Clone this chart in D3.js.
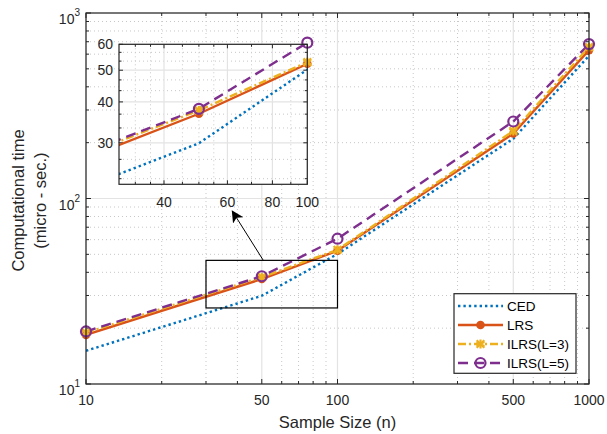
<!DOCTYPE html>
<html><head><meta charset="utf-8">
<script src="https://cdn.jsdelivr.net/npm/d3@7"></script>
<style>
html,body{margin:0;padding:0;background:#fff;}
svg{display:block;font-family:"Liberation Sans",Arial,Helvetica,sans-serif;}
</style></head>
<body>
<script>
// ---------- data ----------
const sampleSizes = [10, 50, 100, 500, 1000];
const cedValues   = [15.1, 29.9, 50.2, 210, 588];
const lrsValues   = [18.4, 36.8, 52.3, 224, 631];
const ilrs3Values = [18.9, 37.7, 52.9, 231, 655];
const ilrs5Values = [19.2, 38.1, 60.7, 260, 680];
const seriesNames = ["CED", "LRS", "ILRS(L=3)", "ILRS(L=5)"];

const xTickValues = [10, 50, 100, 500, 1000];
const xTickLabels = ["10", "50", "100", "500", "1000"];
const yTickValues = [10, 100, 1000];
const yTickExponents = ["1", "2", "3"];

const insetXTicks = [40, 60, 80, 100];
const insetYTicks = [30, 40, 50, 60];
const insetXMinor = [33.3, 36.7, 45, 50, 55, 70, 90];
const insetYMinor = [23.3, 26.7, 33.3, 36.7, 43.3, 46.7, 53.3, 56.7];
const insetXDomain = [30, 100];
const insetYDomain = [22.4, 60];

const zoomBoxX = [30, 100];
const zoomBoxY = [25.7, 46.4];
const arrowFrom = [50.7, 46.4];
const arrowTo = [38.2, 85.4];

const xLabel = "Sample Size (n)";
const yLabelLines = ["Computational time", "(micro - sec.)"];

// ---------- styles ----------
const W = 607, H = 434;
const colors = ["#0072BD", "#D95319", "#EDB120", "#7E2F8E"];
const dashes = ["2.4,3", null, "8,3,2,3", "10,6"];
const markers = [null, "dot", "star", "ring"];
const allSeries = [cedValues, lrsValues, ilrs3Values, ilrs5Values];
const axisColor = "#262626";

const svg = d3.select("body").append("svg").attr("width", W).attr("height", H);
svg.append("rect").attr("width", W).attr("height", H).attr("fill", "#fff");

const L = 86, R = 589, T = 13, B = 384;
const x = d3.scaleLog().domain([10, 1000]).range([L, R]);
const y = d3.scaleLog().domain([10, 1000]).range([B, T]);

function minorLog(lo, hi) {
  const out = [];
  for (let d = lo; d < hi; d *= 10) for (let k = 2; k <= 9; k++) out.push(d * k);
  return out;
}
const xMinor = minorLog(10, 1000).filter(v => xTickValues.indexOf(v) < 0);
const yMinor = minorLog(10, 1000);

// grid
const grid = svg.append("g");
grid.selectAll(".mx").data(xMinor).enter().append("line")
  .attr("x1", d => x(d)).attr("x2", d => x(d)).attr("y1", T).attr("y2", B)
  .attr("stroke", "#c8c8c8").attr("stroke-width", 1).attr("stroke-dasharray", "1,3");
grid.selectAll(".my").data(yMinor).enter().append("line")
  .attr("y1", d => y(d)).attr("y2", d => y(d)).attr("x1", L).attr("x2", R)
  .attr("stroke", "#c8c8c8").attr("stroke-width", 1).attr("stroke-dasharray", "1,3");
grid.selectAll(".gx").data(xTickValues).enter().append("line")
  .attr("x1", d => x(d)).attr("x2", d => x(d)).attr("y1", T).attr("y2", B)
  .attr("stroke", "#e3e3e3").attr("stroke-width", 1.2);
grid.selectAll(".gy").data(yTickValues).enter().append("line")
  .attr("y1", d => y(d)).attr("y2", d => y(d)).attr("x1", L).attr("x2", R)
  .attr("stroke", "#e3e3e3").attr("stroke-width", 1.2);

// ticks (inward, all four sides)
const tk = svg.append("g").attr("stroke", axisColor).attr("stroke-width", 1);
function xt(vals, len) {
  vals.forEach(v => {
    tk.append("line").attr("x1", x(v)).attr("x2", x(v)).attr("y1", B).attr("y2", B - len);
    tk.append("line").attr("x1", x(v)).attr("x2", x(v)).attr("y1", T).attr("y2", T + len);
  });
}
function yt(vals, len) {
  vals.forEach(v => {
    tk.append("line").attr("y1", y(v)).attr("y2", y(v)).attr("x1", L).attr("x2", L + len);
    tk.append("line").attr("y1", y(v)).attr("y2", y(v)).attr("x1", R).attr("x2", R - len);
  });
}
xt(xTickValues, 5); xt(xMinor, 3); yt(yTickValues, 5); yt(yMinor, 3);

// tick labels
svg.append("g").selectAll("text").data(xTickValues).enter().append("text")
  .attr("x", d => x(d)).attr("y", B + 21).attr("text-anchor", "middle")
  .attr("font-size", 14).attr("fill", axisColor).text((d, i) => xTickLabels[i]);
const yl = svg.append("g").selectAll("text").data(yTickValues).enter().append("text")
  .attr("x", 80).attr("y", d => y(d) + 11).attr("text-anchor", "end")
  .attr("font-size", 14).attr("fill", axisColor);
yl.append("tspan").text("10");
yl.append("tspan").attr("dy", -8).attr("font-size", 10).text((d, i) => yTickExponents[i]);

// axis labels
svg.append("text").attr("x", (L + R) / 2).attr("y", 428).attr("text-anchor", "middle")
  .attr("font-size", 16.5).attr("fill", axisColor).text(xLabel);
yLabelLines.forEach((t, i) => {
  svg.append("text").attr("transform", `translate(${23.5 + i * 22},${(T + B) / 2 + 2}) rotate(-90)`)
    .attr("text-anchor", "middle").attr("font-size", 16.5).attr("fill", axisColor).text(t);
});

// series drawing helper
function drawSeries(g, xs, ys, clipId) {
  const line = d3.line().x(d => xs(d[0])).y(d => ys(d[1]));
  const gg = g.append("g");
  if (clipId) gg.attr("clip-path", `url(#${clipId})`);
  allSeries.forEach((vals, si) => {
    const pts = sampleSizes.map((n, i) => [n, vals[i]]);
    gg.append("path").attr("d", line(pts)).attr("fill", "none")
      .attr("stroke", colors[si]).attr("stroke-width", 2.4)
      .attr("stroke-dasharray", dashes[si]);
  });
  const mg = g.append("g");
  allSeries.forEach((vals, si) => {
    sampleSizes.forEach((n, i) => {
      const px = xs(n), py = ys(vals[i]);
      const [d0, d1] = xs.domain(); const [e0, e1] = ys.domain();
      if (n < d0 - 1e-9 || n > d1 + 1e-9 || vals[i] < e0 || vals[i] > e1 * 1.02) return;
      drawMarker(mg, markers[si], colors[si], px, py);
    });
  });
}
function drawMarker(g, m, c, px, py) {
  if (m === "dot") {
    g.append("circle").attr("cx", px).attr("cy", py).attr("r", 4.3).attr("fill", c);
  } else if (m === "ring") {
    g.append("circle").attr("cx", px).attr("cy", py).attr("r", 5).attr("fill", "none")
      .attr("stroke", c).attr("stroke-width", 2.2);
  } else if (m === "star") {
    g.append("path").attr("d", d3.symbol(d3.symbolAsterisk, 55)())
      .attr("transform", `translate(${px},${py})`).attr("fill", "none")
      .attr("stroke", c).attr("stroke-width", 2.2);
    g.append("path").attr("d", d3.symbol(d3.symbolTimes, 40)())
      .attr("transform", `translate(${px},${py})`).attr("fill", "none")
      .attr("stroke", c).attr("stroke-width", 2.2);
  }
}

const defs = svg.append("defs");
defs.append("clipPath").attr("id", "mainClip").append("rect")
  .attr("x", L).attr("y", T).attr("width", R - L).attr("height", B - T);

drawSeries(svg.append("g"), x, y, "mainClip");

// zoom box
svg.append("rect").attr("x", x(zoomBoxX[0])).attr("y", y(zoomBoxY[1]))
  .attr("width", x(zoomBoxX[1]) - x(zoomBoxX[0])).attr("height", y(zoomBoxY[0]) - y(zoomBoxY[1]))
  .attr("fill", "none").attr("stroke", "#000").attr("stroke-width", 1.2);

// arrow
defs.append("marker").attr("id", "arrowHead").attr("viewBox", "0 0 10 10")
  .attr("refX", 9).attr("refY", 5).attr("markerWidth", 12).attr("markerHeight", 12)
  .attr("markerUnits", "userSpaceOnUse").attr("orient", "auto")
  .append("path").attr("d", "M0,0 L10,5 L0,10 L2.5,5 Z").attr("fill", "#000");
svg.append("line").attr("x1", x(arrowFrom[0])).attr("y1", y(arrowFrom[1]))
  .attr("x2", x(arrowTo[0])).attr("y2", y(arrowTo[1]))
  .attr("stroke", "#000").attr("stroke-width", 1).attr("marker-end", "url(#arrowHead)");

// main frame
svg.append("rect").attr("x", L).attr("y", T).attr("width", R - L).attr("height", B - T)
  .attr("fill", "none").attr("stroke", axisColor).attr("stroke-width", 1.2);

// ---------- inset ----------
const iL = 119, iR = 307.3, iT = 44.3, iB = 184.3;
const ix = d3.scaleLog().domain(insetXDomain).range([iL, iR]);
const iy = d3.scaleLog().domain(insetYDomain).range([iB, iT]);
const ins = svg.append("g");
ins.append("rect").attr("x", iL).attr("y", iT).attr("width", iR - iL).attr("height", iB - iT).attr("fill", "#fff");
ins.selectAll(".imx").data(insetXMinor).enter().append("line")
  .attr("x1", d => ix(d)).attr("x2", d => ix(d)).attr("y1", iT).attr("y2", iB)
  .attr("stroke", "#c8c8c8").attr("stroke-dasharray", "1,3");
ins.selectAll(".imy").data(insetYMinor).enter().append("line")
  .attr("y1", d => iy(d)).attr("y2", d => iy(d)).attr("x1", iL).attr("x2", iR)
  .attr("stroke", "#c8c8c8").attr("stroke-dasharray", "1,3");
ins.selectAll(".igx").data(insetXTicks).enter().append("line")
  .attr("x1", d => ix(d)).attr("x2", d => ix(d)).attr("y1", iT).attr("y2", iB)
  .attr("stroke", "#e3e3e3").attr("stroke-width", 1.2);
ins.selectAll(".igy").data(insetYTicks).enter().append("line")
  .attr("y1", d => iy(d)).attr("y2", d => iy(d)).attr("x1", iL).attr("x2", iR)
  .attr("stroke", "#e3e3e3").attr("stroke-width", 1.2);
const itk = ins.append("g").attr("stroke", axisColor).attr("stroke-width", 1);
[[insetXTicks, 4], [insetXMinor, 2.5]].forEach(([vals, len]) => vals.forEach(v => {
  itk.append("line").attr("x1", ix(v)).attr("x2", ix(v)).attr("y1", iB).attr("y2", iB - len);
  itk.append("line").attr("x1", ix(v)).attr("x2", ix(v)).attr("y1", iT).attr("y2", iT + len);
}));
[[insetYTicks, 4], [insetYMinor, 2.5]].forEach(([vals, len]) => vals.forEach(v => {
  itk.append("line").attr("y1", iy(v)).attr("y2", iy(v)).attr("x1", iL).attr("x2", iL + len);
  itk.append("line").attr("y1", iy(v)).attr("y2", iy(v)).attr("x1", iR).attr("x2", iR - len);
}));
defs.append("clipPath").attr("id", "insetClip").append("rect")
  .attr("x", iL).attr("y", iT).attr("width", iR - iL).attr("height", iB - iT);
drawSeries(ins, ix, iy, "insetClip");
ins.append("rect").attr("x", iL).attr("y", iT).attr("width", iR - iL).attr("height", iB - iT)
  .attr("fill", "none").attr("stroke", axisColor).attr("stroke-width", 1.2);
ins.selectAll(".ixl").data(insetXTicks).enter().append("text")
  .attr("x", d => ix(d)).attr("y", iB + 23).attr("text-anchor", "middle")
  .attr("font-size", 14).attr("fill", axisColor).text(d => d);
ins.selectAll(".iyl").data(insetYTicks).enter().append("text")
  .attr("x", iL - 6).attr("y", d => iy(d) + 5).attr("text-anchor", "end")
  .attr("font-size", 14).attr("fill", axisColor).text(d => d);

// ---------- legend ----------
const lg = svg.append("g");
lg.append("rect").attr("x", 454).attr("y", 293.7).attr("width", 122).attr("height", 79.6)
  .attr("fill", "#fff").attr("stroke", axisColor).attr("stroke-width", 1.2);
seriesNames.forEach((name, i) => {
  const cy = 306 + i * 19;
  lg.append("line").attr("x1", 458).attr("x2", 503).attr("y1", cy).attr("y2", cy)
    .attr("stroke", colors[i]).attr("stroke-width", 2.4).attr("stroke-dasharray", dashes[i]);
  drawMarker(lg, markers[i], colors[i], 480.5, cy);
  lg.append("text").attr("x", 507).attr("y", cy + 5).attr("font-size", 13.5)
    .attr("fill", "#000").text(name);
});
</script>
</body></html>
